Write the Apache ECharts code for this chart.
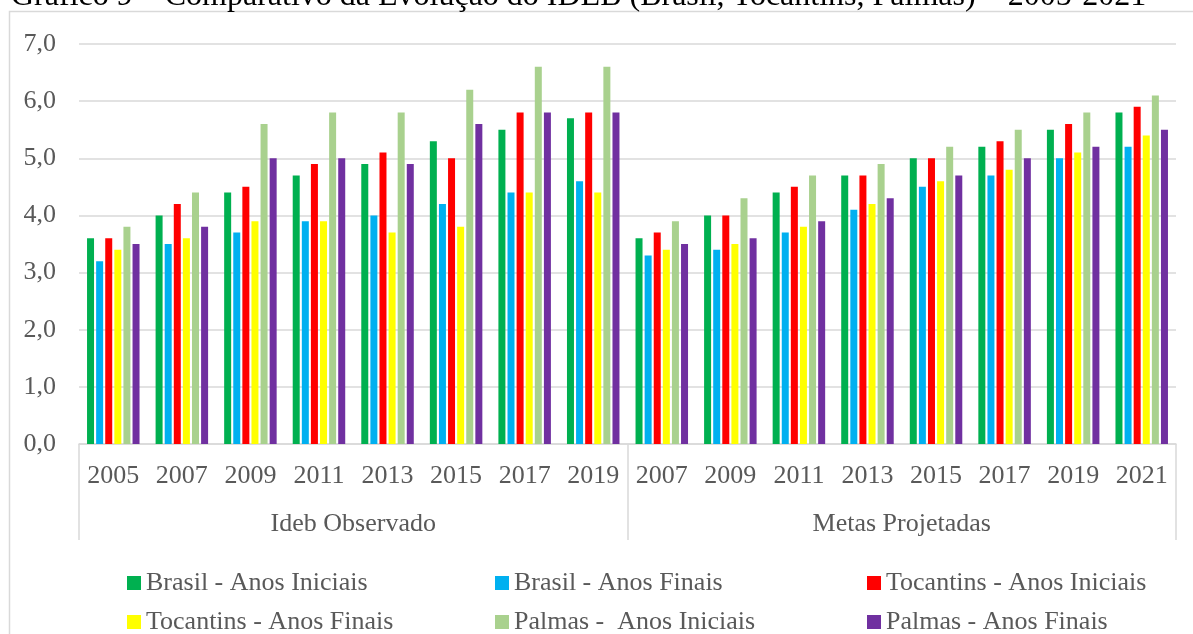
<!DOCTYPE html>
<html>
<head>
<meta charset="utf-8">
<script src="https://cdn.jsdelivr.net/npm/echarts@6/dist/echarts.min.js"></script>
<style>
  html, body { margin: 0; padding: 0; background: #fff; }
  #chart { width: 1193px; height: 634px; }
</style>
</head>
<body>
<div id="chart"></div>
<script>
// categorias (anos) e grupos
const years = ['2005','2007','2009','2011','2013','2015','2017','2019',
               '2007','2009','2011','2013','2015','2017','2019','2021'];
const groups = ['Ideb Observado', 'Metas Projetadas'];

const seriesNames = ['Brasil - Anos Iniciais', 'Brasil - Anos Finais', 'Tocantins - Anos Iniciais',
                     'Tocantins - Anos Finais', 'Palmas -  Anos Iniciais', 'Palmas - Anos Finais'];
const colors = ['#00B050', '#00B0F0', '#FF0000', '#FFFF00', '#A9D18E', '#7030A0'];

// valores (observado 2005-2019, metas 2007-2021)
const brasilIniciais    = [3.6, 4.0, 4.4, 4.7, 4.9, 5.3, 5.5, 5.7,  3.6, 4.0, 4.4, 4.7, 5.0, 5.2, 5.5, 5.8];
const brasilFinais      = [3.2, 3.5, 3.7, 3.9, 4.0, 4.2, 4.4, 4.6,  3.3, 3.4, 3.7, 4.1, 4.5, 4.7, 5.0, 5.2];
const tocantinsIniciais = [3.6, 4.2, 4.5, 4.9, 5.1, 5.0, 5.8, 5.8,  3.7, 4.0, 4.5, 4.7, 5.0, 5.3, 5.6, 5.9];
const tocantinsFinais   = [3.4, 3.6, 3.9, 3.9, 3.7, 3.8, 4.4, 4.4,  3.4, 3.5, 3.8, 4.2, 4.6, 4.8, 5.1, 5.4];
const palmasIniciais    = [3.8, 4.4, 5.6, 5.8, 5.8, 6.2, 6.6, 6.6,  3.9, 4.3, 4.7, 4.9, 5.2, 5.5, 5.8, 6.1];
const palmasFinais      = [3.5, 3.8, 5.0, 5.0, 4.9, 5.6, 5.8, 5.8,  3.5, 3.6, 3.9, 4.3, 4.7, 5.0, 5.2, 5.5];

const allData = [brasilIniciais, brasilFinais, tocantinsIniciais, tocantinsFinais, palmasIniciais, palmasFinais];

const font = 'Liberation Serif, Times New Roman, serif';
const textColor = '#595959';
const lineColor = '#d9d9d9';

let chart = echarts.init(document.getElementById('chart'));

let series = [];
for (let i = 0; i < allData.length; i++) {
    series.push({
        name: seriesNames[i],
        type: 'bar',
        xAxisIndex: 0,
        barWidth: 7,
        barGap: '30%',
        itemStyle: { color: colors[i] },
        data: allData[i]
    });
}

// legenda em 3 colunas fixas, 2 linhas: um componente por item
const legendCols = [122, 490, 862];
const legendRows = [565, 604];
let legends = [];
for (let i = 0; i < seriesNames.length; i++) {
    legends.push({
        left: legendCols[i % 3],
        top: legendRows[Math.floor(i / 3)],
        data: [seriesNames[i]],
        itemWidth: 14,
        itemHeight: 14,
        icon: 'rect',
        selectedMode: false,
        textStyle: { fontFamily: font, fontSize: 26, color: textColor }
    });
}

const option = {
    animation: false,
    title: {
        text: 'Gráfico 9 – Comparativo da Evolução do IDEB (Brasil, Tocantins, Palmas) – 2005-2021',
        left: 6,
        top: -24,
        textStyle: { fontFamily: font, fontSize: 32, fontWeight: 'normal', color: '#000' }
    },
    graphic: [{
        type: 'rect',
        shape: { x: 9.5, y: 11.5, width: 1300, height: 800 },
        style: { fill: 'none', stroke: lineColor, lineWidth: 1.5 },
        silent: true
    }],
    legend: legends,
    grid: { left: 79, right: 17, top: 44, bottom: 190 },
    xAxis: [
        {
            type: 'category',
            data: years,
            position: 'bottom',
            axisLine: { lineStyle: { color: lineColor, width: 1.5 } },
            axisTick: { show: false },
            axisLabel: { margin: 19, interval: 0, fontFamily: font, fontSize: 26, color: textColor }
        },
        {
            type: 'category',
            data: groups,
            position: 'bottom',
            axisLine: { show: false },
            axisTick: { show: true, length: 96, lineStyle: { color: lineColor, width: 1.5 } },
            axisLabel: { margin: 67, interval: 0, fontFamily: font, fontSize: 26, color: textColor }
        }
    ],
    yAxis: {
        type: 'value',
        min: 0,
        max: 7,
        interval: 1,
        axisLine: { show: false },
        axisTick: { show: false },
        splitLine: { lineStyle: { color: lineColor, width: 1.5 } },
        axisLabel: {
            margin: 23,
            fontFamily: font,
            fontSize: 26,
            color: textColor,
            formatter: function (v) { return v.toFixed(1).replace('.', ','); }
        }
    },
    series: series
};

chart.setOption(option);
</script>
</body>
</html>
